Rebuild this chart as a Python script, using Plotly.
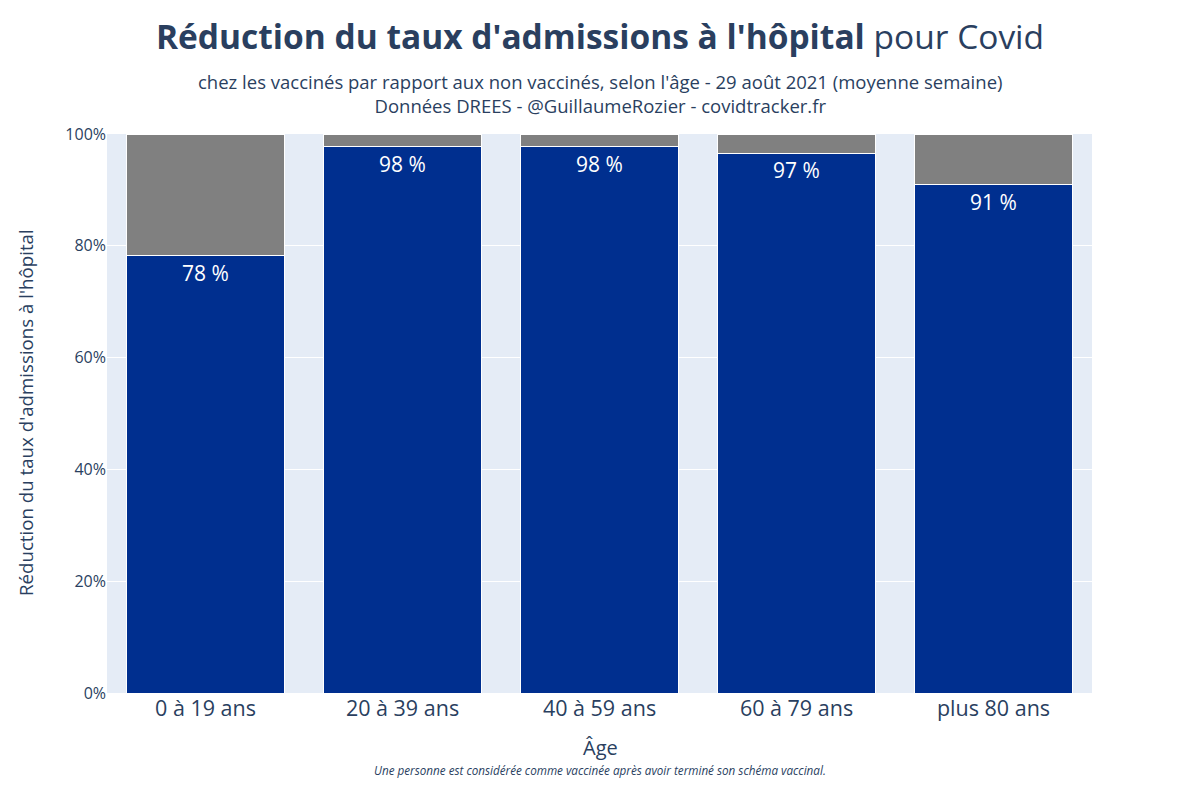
import plotly.graph_objects as go

categories = ["0 à 19 ans", "20 à 39 ans", "40 à 59 ans", "60 à 79 ans", "plus 80 ans"]
reduction = [78.2, 97.7, 97.7, 96.6, 90.9]
remaining = [100 - v for v in reduction]
labels = [f"{round(v)} %" for v in reduction]
ytickvals = [0, 20, 40, 60, 80, 100]
yticktext = [f"{v}%" for v in ytickvals]

FONT = "Open Sans"
DARK = "#2a3f5f"
W, H = 1200, 800
OFF = 8  # page body margin offset
L, R, T, B = 107 - OFF, 1200 - (1092 - OFF), 134 - OFF, 800 - (693 - OFF)
PW, PH = W - L - R, H - T - B


def py(ypix):
    """paper y for a reference pixel row"""
    return ((H - B) - (ypix - OFF)) / PH


def px(xpix):
    return ((xpix - OFF) - L) / PW


fig = go.Figure()
fig.add_trace(go.Bar(
    x=categories, y=reduction, marker=dict(color="#002f8f", line=dict(color="white", width=1)),
    text=labels, textposition="inside", insidetextanchor="end",
    textfont=dict(color="white", size=21, family=FONT), showlegend=False,
))
fig.add_trace(go.Bar(
    x=categories, y=remaining, marker=dict(color="#808080", line=dict(color="white", width=1)),
    showlegend=False, hoverinfo="skip",
))
fig.update_layout(
    barmode="stack",
    width=W, height=H,
    margin=dict(l=L, r=R, t=T, b=B, autoexpand=False),
    paper_bgcolor="white", plot_bgcolor="#e5ecf6",
    font=dict(family=FONT, color=DARK),
    bargap=0.2,
    uniformtext=dict(minsize=21, mode="show"),
    title=dict(
        text="<b>Réduction du taux d'admissions à l'hôpital</b> pour Covid",
        x=px(600) * PW / W + L / W, xanchor="center", y=1 - (37 - OFF) / H, yanchor="middle",
        font=dict(size=33.5, family=FONT, color=DARK),
    ),
    xaxis=dict(
        automargin=False,
        tickfont=dict(size=21.5, family=FONT, color=DARK),
        showgrid=False,
    ),
    yaxis=dict(
        automargin=False,
        range=[0, 100], tickmode="array", tickvals=ytickvals, ticktext=yticktext,
        tickfont=dict(size=16, family=FONT, color=DARK),
        gridcolor="white", gridwidth=1, zeroline=False,
    ),
    annotations=[
        dict(text="chez les vaccinés par rapport aux non vaccinés, selon l'âge - 29 août 2021 (moyenne semaine)<br>Données DREES - @GuillaumeRozier - covidtracker.fr",
             x=px(600), xref="paper", y=py(93), yref="paper", yanchor="middle", showarrow=False,
             font=dict(size=18.5, family=FONT, color=DARK)),
        dict(text="Réduction du taux d'admissions à l'hôpital", textangle=-90,
             x=px(25), xref="paper", xanchor="center", y=py(413), yref="paper",
             yanchor="middle", showarrow=False,
             font=dict(size=18.7, family=FONT, color=DARK)),
        dict(text="Âge",
             x=px(600), xref="paper", y=py(747), yref="paper", yanchor="middle", showarrow=False,
             font=dict(size=20, family=FONT, color=DARK)),
        dict(text="<i>Une personne est considérée comme vaccinée après avoir terminé son schéma vaccinal.</i>",
             x=px(600), xref="paper", y=py(770), yref="paper", yanchor="middle", showarrow=False,
             font=dict(size=11.7, family=FONT, color=DARK)),
    ],
)

fig.write_html("out.html")
